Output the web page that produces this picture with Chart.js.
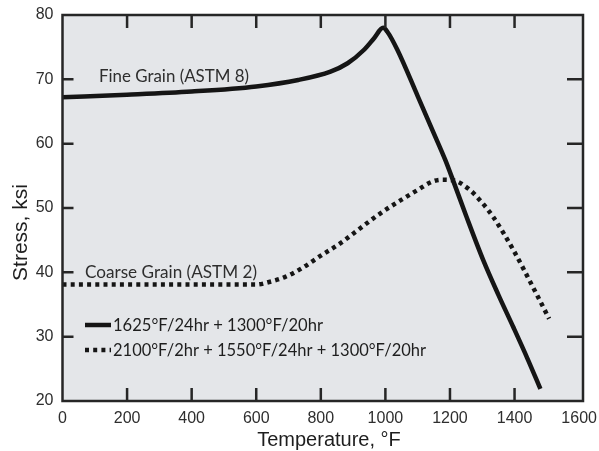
<!DOCTYPE html>
<html><head><meta charset="utf-8">
<script src="https://cdn.jsdelivr.net/npm/chart.js@4/dist/chart.umd.min.js"></script>
<style>html,body{margin:0;padding:0;background:#fff;overflow:hidden}#wrap{width:599px;height:451px}</style>
</head><body><div id="wrap"><canvas id="c" width="599" height="451"></canvas></div>
<script>
const xTicks = [0, 200, 400, 600, 800, 1000, 1200, 1400, 1600];
const yTicks = [20, 30, 40, 50, 60, 70, 80];
const fineTemp   = [0, 200, 400, 600, 730, 830, 883, 934, 965, 993, 1006, 1037, 1100, 1150, 1186, 1211, 1250, 1303, 1350, 1396, 1440, 1480];
const fineStress = [67.2, 67.6, 68.1, 68.9, 69.9, 71.2, 72.5, 74.6, 76.4, 78.0, 77.4, 74.6, 67.4, 61.6, 57.4, 54.1, 48.8, 41.9, 36.5, 31.5, 26.6, 21.9];
const coarseTemp   = [0, 200, 400, 600, 640, 690, 740, 800, 860, 900, 955, 1000, 1057, 1100, 1145, 1175, 1210, 1262, 1300, 1334, 1396, 1457, 1507];
const coarseStress = [38.1, 38.1, 38.1, 38.1, 38.5, 39.3, 40.6, 42.6, 44.5, 46.0, 48.1, 49.7, 51.5, 52.8, 54.1, 54.4, 54.3, 52.8, 50.8, 48.6, 43.5, 37.7, 32.8];
const fineLabel = 'Fine Grain (ASTM 8)';
const coarseLabel = 'Coarse Grain (ASTM 2)';
const legendLabels = ['1625°F/24hr + 1300°F/20hr', '2100°F/2hr + 1550°F/24hr + 1300°F/20hr'];
const xTitle = 'Temperature, °F';
const yTitle = 'Stress, ksi';

const LINE = '#151515';
const DASH = [4, 4.2];

function toPts(xs, ys) { return xs.map((x, i) => ({x: x, y: ys[i]})); }

function fitText(ctx, text, x, y, size, width, color) {
  ctx.save();
  ctx.font = size + 'px Lato';
  const w = ctx.measureText(text).width;
  ctx.translate(x, y);
  ctx.scale(width / w, 1);
  ctx.fillStyle = color;
  ctx.textAlign = 'left';
  ctx.textBaseline = 'alphabetic';
  ctx.fillText(text, 0, 0);
  ctx.restore();
}

const decor = {
  id: 'decor',
  beforeDraw(chart) {
    const {ctx, chartArea: a} = chart;
    ctx.save();
    ctx.fillStyle = '#e4e6e9';
    ctx.fillRect(a.left, a.top, a.right - a.left, a.bottom - a.top);
    ctx.restore();
  },
  afterDraw(chart) {
    const {ctx, chartArea: a, scales} = chart;
    const xs = scales.x, ys = scales.y;
    ctx.save();
    ctx.strokeStyle = '#262626';
    ctx.lineWidth = 2.5;
    ctx.strokeRect(a.left, a.top, a.right - a.left, a.bottom - a.top);
    ctx.beginPath();
    xTicks.forEach(v => {
      if (v <= xs.min || v >= 1600) return;
      const px = xs.getPixelForValue(v);
      ctx.moveTo(px, a.bottom); ctx.lineTo(px, a.bottom - 13);
      ctx.moveTo(px, a.top); ctx.lineTo(px, a.top + 13);
    });
    yTicks.forEach(v => {
      if (v <= ys.min || v >= ys.max) return;
      const py = ys.getPixelForValue(v);
      ctx.moveTo(a.left, py); ctx.lineTo(a.left + 11, py);
      ctx.moveTo(a.right, py); ctx.lineTo(a.right - 16, py);
    });
    ctx.stroke();

    // axis titles
    ctx.fillStyle = '#1e1e1e';
    ctx.font = '20px "Liberation Sans", Arial, sans-serif';
    ctx.textAlign = 'center';
    ctx.textBaseline = 'alphabetic';
    ctx.fillText(xTitle, 329, 446);
    ctx.save();
    ctx.translate(27, 232.5);
    ctx.rotate(-Math.PI / 2);
    ctx.font = '21px "Liberation Sans", Arial, sans-serif';
    ctx.fillText(yTitle, 0, 0);
    ctx.restore();

    // annotations
    fitText(ctx, fineLabel, 99, 82, 18, 150, '#2e2e2e');
    fitText(ctx, coarseLabel, 85, 278, 18, 172, '#2e2e2e');

    // legend
    ctx.strokeStyle = LINE;
    ctx.lineWidth = 4.5;
    ctx.lineCap = 'butt';
    ctx.beginPath(); ctx.moveTo(85, 325); ctx.lineTo(111, 325); ctx.stroke();
    ctx.setLineDash(DASH);
    ctx.beginPath(); ctx.moveTo(85, 350); ctx.lineTo(111, 350); ctx.stroke();
    ctx.setLineDash([]);
    fitText(ctx, legendLabels[0], 113, 331, 17, 210, '#1e1e1e');
    fitText(ctx, legendLabels[1], 113, 356, 17, 313, '#1e1e1e');
    ctx.restore();
  }
};

new Chart(document.getElementById('c'), {
  type: 'line',
  data: {
    datasets: [
      { label: legendLabels[0], data: toPts(fineTemp, fineStress), borderColor: LINE, borderWidth: 4.5,
        pointRadius: 0, cubicInterpolationMode: 'monotone', fill: false, borderCapStyle: 'butt' },
      { label: legendLabels[1], data: toPts(coarseTemp, coarseStress), borderColor: LINE, borderWidth: 4.5,
        borderDash: DASH, pointRadius: 0, cubicInterpolationMode: 'monotone', fill: false, borderCapStyle: 'butt' }
    ]
  },
  options: {
    responsive: false,
    animation: false,
    devicePixelRatio: 1,
    layout: { padding: { top: 15, right: 16, left: 0, bottom: 0 } },
    plugins: { legend: { display: false }, tooltip: { enabled: false } },
    scales: {
      x: {
        type: 'linear', min: 0, max: 1612,
        afterBuildTicks: s => { s.ticks = xTicks.map(v => ({ value: v })); },
        afterFit: s => { s.height = 50; s.paddingRight = 0; s.paddingLeft = 0; },
        grid: { display: false, drawTicks: false },
        border: { display: false },
        ticks: { color: '#2e2e2e', padding: 8, maxRotation: 0, autoSkip: false,
                 callback: v => String(v),
                 font: { family: '"Liberation Sans", Arial, sans-serif', size: 16 } }
      },
      y: {
        type: 'linear', min: 20, max: 80,
        afterBuildTicks: s => { s.ticks = yTicks.map(v => ({ value: v })); },
        afterFit: s => { s.width = 62.5; s.paddingTop = 0; s.paddingBottom = 0; },
        grid: { display: false, drawTicks: false },
        border: { display: false },
        ticks: { color: '#2e2e2e', padding: 9, autoSkip: false,
                 callback: v => String(v),
                 font: { family: '"Liberation Sans", Arial, sans-serif', size: 16 } }
      }
    }
  },
  plugins: [decor]
});
</script>
</body></html>
